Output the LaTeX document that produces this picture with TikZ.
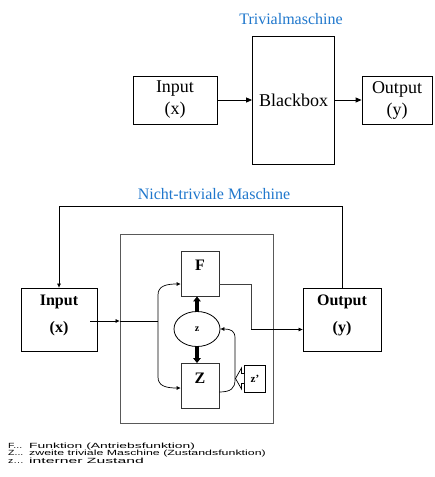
\documentclass[tikz,border=0pt]{standalone}
\usepackage{fontspec}
\setmainfont{Liberation Serif}
\newfontfamily\legendfont{Liberation Sans}
\usetikzlibrary{arrows.meta,shapes.geometric}
\definecolor{titleblue}{RGB}{31,119,204}
\begin{document}
\begin{tikzpicture}[x=1pt,y=-1pt,
  box/.style={draw=black,line width=0.8pt,inner sep=0pt},
  graybox/.style={draw=black!65,line width=0.9pt,inner sep=0pt},
  bigtext/.style={font=\fontsize{18}{22}\selectfont,align=center},
  boldtext/.style={font=\fontsize{16}{18}\selectfont\bfseries},
  title/.style={font=\fontsize{16}{18}\selectfont,text=titleblue},
  conn/.style={line width=0.8pt},
  arr/.style={line width=0.8pt,-{Triangle[length=6pt,width=5pt]}},
  sarr/.style={line width=0.7pt,-{Triangle[length=4pt,width=3.5pt]}},
  thick arr/.style={line width=3.5pt,-{Triangle[length=5pt,width=7.5pt]}},
  legend/.style={font=\legendfont\fontsize{7.5}{8}\selectfont,anchor=base west,inner sep=0pt,text height=5.5pt,text depth=1pt}
]
\useasboundingbox (0,0) rectangle (435,477);
% ---------- Trivialmaschine ----------
\node[title] (t1) at (291,19) {Trivialmaschine};
\node[box,minimum width=84pt,minimum height=48pt,bigtext] (in1) at (175,100) {Input\\(x)};
\node[box,minimum width=82pt,minimum height=128pt,bigtext] (bb) at (293.5,100) {Blackbox};
\node[box,minimum width=70pt,minimum height=48pt,bigtext] (out1) at (397,100) {Output\\(y)};
\draw[arr] (in1.east) -- (in1.east -| bb.west);
\draw[arr] (out1.west -| bb.east) -- (out1.west);
% ---------- Nicht-triviale Maschine ----------
\node[title] (t2) at (214,194) {Nicht-triviale Maschine};
\node[box,minimum width=76pt,minimum height=63pt] (in2) at (59,319.5) {};
\node[boldtext] (in2a) at (59,302) {Input};
\node[boldtext] (in2b) at (59,329) {(x)};
\node[box,minimum width=78pt,minimum height=63pt] (out2) at (342,319.5) {};
\node[boldtext] (out2a) at (342,302) {Output};
\node[boldtext] (out2b) at (342,329) {(y)};
\node[graybox,minimum width=153pt,minimum height=189pt] (big) at (196.5,328.5) {};
\node[box,line width=0.9pt,draw=black!80,minimum width=38pt,minimum height=45pt] (F) at (200,273.5) {};
\node[boldtext] (Ft) at (200,265) {F};
\node[box,line width=0.9pt,draw=black!80,minimum width=38pt,minimum height=45pt] (Z) at (200,386) {};
\node[boldtext] (Zt) at (200,378) {Z};
\node[draw=black,line width=0.8pt,ellipse,minimum width=46pt,minimum height=35pt,inner sep=0pt,
      font=\fontsize{10}{12}\selectfont\bfseries] (z) at (197,329) {z};
\node[box,minimum width=21pt,minimum height=27pt,font=\fontsize{11}{12}\selectfont\bfseries] (zp) at (255,378.5) {z'};
% feedback
\coordinate (fb1) at (342,206);
\coordinate (fb2) at (59,206);
\draw[sarr] (out2.north) -- (fb1) -- (fb2) -- (in2.north);
% input into machine
\coordinate (xin) at (90,321);
\coordinate (j) at (158,321);
\draw[sarr] (xin) -- (xin -| big.west);
\draw[conn] (xin -| big.west) -- (j);
\draw[sarr] (j) -- (158,295) .. controls (158,286) and (166,284) .. (F.west |- 0,284);
\draw[sarr] (j) -- (158,377) .. controls (158,386) and (166,388) .. (Z.west |- 0,388);
% F output
\coordinate (fo1) at (251,284);
\coordinate (fo2) at (251,329.5);
\draw[conn,draw=black!75] (F.east |- fo1) -- (fo1) -- (fo2);
\draw[sarr] (fo2) -- (fo2 -| out2.west);
% thick arrows
\draw[thick arr] (z.north) -- (z.north |- F.south);
\draw[thick arr] (z.south) -- (z.south |- Z.north);
% Z loop back to z
\draw[sarr] (Z.east |- 0,392) .. controls (231,392) and (235,388) .. (235,380) -- (235,338) .. controls (235,331) and (231,329) .. (z.east);
% hollow arrow from z'
\draw[line width=0.7pt,fill=white] (zp.west |- 0,373.5) -- (241.5,373.5) -- (241.5,368) -- (235.5,378.5) -- (241.5,389) -- (241.5,383.5) -- (zp.west |- 0,383.5);
% ---------- legend ----------
\node[legend] (l1a) at (8,448) {\scalebox{1.4}[1]{F...}};
\node[legend] (l1b) at (29,448) {\scalebox{1.85}[1]{Funktion (Antriebsfunktion)}};
\node[legend] (l2a) at (8,455.5) {\scalebox{1.4}[1]{Z...}};
\node[legend] (l2b) at (29,455.5) {\scalebox{1.65}[1]{zweite triviale Maschine (Zustandsfunktion)}};
\node[legend] (l3a) at (8,463) {\scalebox{1.4}[1]{z…}};
\node[legend] (l3b) at (29,463) {\scalebox{2.1}[1]{interner Zustand}};
\end{tikzpicture}
\end{document}
